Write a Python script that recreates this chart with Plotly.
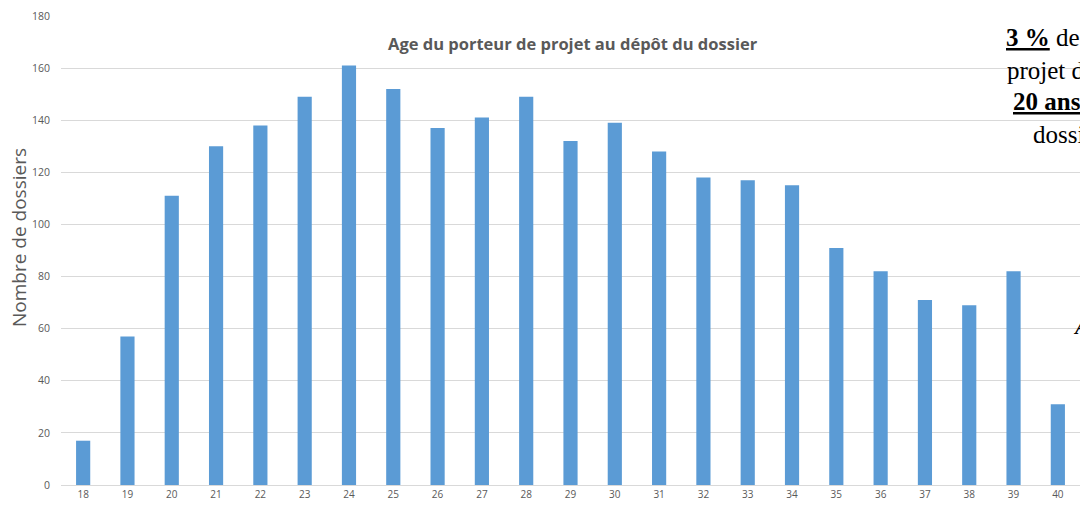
import plotly.graph_objects as go

ages = list(range(18, 41))
dossiers = [17, 57, 111, 130, 138, 149, 161, 152, 137, 141, 149, 132, 139,
            128, 118, 117, 115, 91, 82, 71, 69, 82, 31]
y_ticks = [0, 20, 40, 60, 80, 100, 120, 140, 160, 180]

title_text = "Age du porteur de projet au dépôt du dossier"
y_title = "Nombre de dossiers"
side_lines = ["<b><u>3 %</u></b> des porteurs", "projet de moins de",
              "<b><u>20 ans</u></b> au dépôt", "dossier"]

W, H = 1080, 507
# plot area in page pixels: left 61, top 16, bottom 485, right 1080
L, R, T, B = 61, 0, 16, 507 - 485
PW, PH = W - L - R, H - T - B


def fx(px):
    return (px - L) / PW


def fy(py):
    return (H - B - py) / PH


fig = go.Figure()
fig.add_trace(go.Bar(x=ages, y=dossiers, marker=dict(color="#5B9BD5", line=dict(width=0)),
                     width=0.32, hoverinfo="x+y"))

shapes = [
    dict(type="rect", xref="paper", yref="paper", layer="between",
         x0=fx(990), x1=1.01, y0=fy(162), y1=fy(22),
         fillcolor="white", line=dict(width=0)),
    dict(type="rect", xref="paper", yref="paper", layer="between",
         x0=fx(1050), x1=1.01, y0=fy(470), y1=fy(300),
         fillcolor="white", line=dict(width=0)),
]

annotations = [
    dict(text="<b>" + title_text + "</b>", x=fx(573), y=fy(43), xref="paper", yref="paper",
         showarrow=False, font=dict(family="Open Sans", size=16.5, color="#595959"),
         xanchor="center", yanchor="middle"),
    dict(text=y_title, x=fx(19), y=fy(238), xref="paper", yref="paper",
         showarrow=False, textangle=-90, font=dict(family="Open Sans", size=19, color="#595959"),
         xanchor="center", yanchor="middle"),
]
line_x = [1004, 1005, 1011, 1031]
line_y = [38, 70, 102, 134]
for txt, lx, ly in zip(side_lines, line_x, line_y):
    annotations.append(dict(text=txt, x=fx(lx), y=fy(ly),
                            xref="paper", yref="paper", showarrow=False, xanchor="left", yanchor="middle",
                            font=dict(family="Liberation Serif", size=25, color="black")))
annotations.append(dict(text="<b><i>A</i></b>", x=fx(1071), y=fy(326),
                        xref="paper", yref="paper", showarrow=False, xanchor="left", yanchor="middle",
                        font=dict(family="Liberation Serif", size=22, color="black")))

fig.update_layout(
    width=W, height=H,
    margin=dict(l=L, r=R, t=T, b=B),
    plot_bgcolor="white", paper_bgcolor="white",
    showlegend=False,
    shapes=shapes,
    annotations=annotations,
    xaxis=dict(range=[17.5, 40.5], tickvals=ages, ticktext=[str(a) for a in ages],
               showgrid=False, showline=True, linecolor="#D9D9D9", linewidth=1,
               ticks="", tickfont=dict(family="Open Sans", size=10, color="#595959"),
               zeroline=False, fixedrange=True),
    yaxis=dict(range=[0, 180], tickvals=y_ticks, showgrid=True, gridcolor="#D9D9D9", gridwidth=1,
               zeroline=False, showline=False, ticks="", ticklabelstandoff=10,
               tickfont=dict(family="Open Sans", size=10.5, color="#595959"), fixedrange=True),
)

fig.write_html("out.html", config={"displayModeBar": False},
               post_script="document.body.style.margin='0';document.body.style.overflow='hidden';")
